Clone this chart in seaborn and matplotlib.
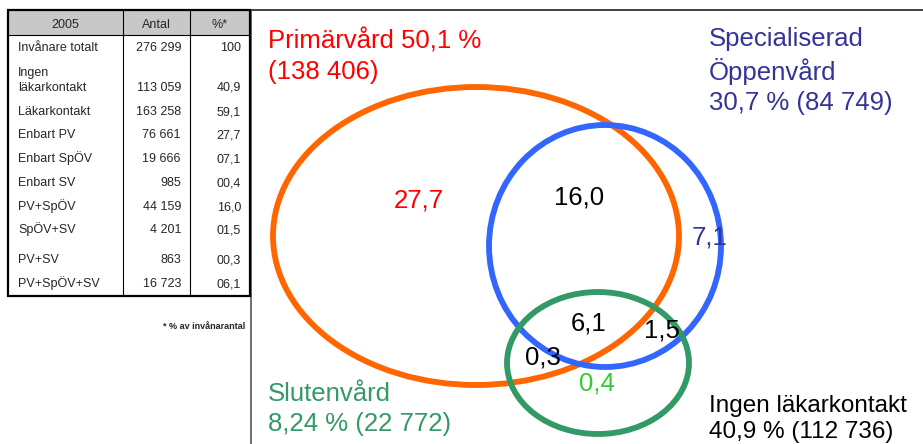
import matplotlib
matplotlib.use("Agg")
import matplotlib.pyplot as plt
import seaborn as sns
from matplotlib.patches import Ellipse, Rectangle

# table data
TABLE_HEADER = ["2005", "Antal", "%*"]
ROW_LABELS = ["Invånare totalt", "Ingen\nläkarkontakt", "Läkarkontakt", "Enbart PV",
              "Enbart SpÖV", "Enbart SV", "PV+SpÖV", "SpÖV+SV", "PV+SV", "PV+SpÖV+SV"]
ROW_ANTAL = ["276 299", "113 059", "163 258", "76 661", "19 666", "985",
             "44 159", "4 201", "863", "16 723"]
ROW_PCT = ["100", "40,9", "59,1", "27,7", "07,1", "00,4", "16,0", "01,5", "00,3", "06,1"]
FOOTNOTE = "* % av invånarantal"

# venn data
SET_NAMES = ["Primärvård 50,1 %\n(138 406)",
             "Specialiserad\nÖppenvård\n30,7 % (84 749)",
             "Slutenvård\n8,24 % (22 772)"]
NONE_LABEL = "Ingen läkarkontakt\n40,9 % (112 736)"
REGION_KEYS = ["PV", "SpÖV", "PV+SpÖV", "PV+SpÖV+SV", "SpÖV+SV", "PV+SV", "SV"]
REGION_VALUES = ["27,7", "7,1", "16,0", "6,1", "1,5", "0,3", "0,4"]

sns.set_theme(style="white")
plt.rcParams["font.family"] = ["Liberation Sans", "DejaVu Sans"]

W, H = 923, 444
fig = plt.figure(figsize=(W / 100, H / 100), dpi=100)
ax = fig.add_axes([0, 0, 1, 1])
ax.set_xlim(0, W)
ax.set_ylim(H, 0)
ax.axis("off")

# ---- table ----
x0, x1, x2, x3 = 8, 123, 190, 250
top, head_bot, bot = 10, 35, 296
row_base = [51, 91, 115, 138, 162, 186, 210, 233, 263, 287]
fs = 9

ax.add_patch(Rectangle((x0, top), x3 - x0, head_bot - top, facecolor="#c8c8c8",
                       edgecolor="none", zorder=1))
ax.plot([x0, x3], [head_bot, head_bot], color="black", lw=0.8, zorder=2)
for xv in (x1, x2):
    ax.plot([xv, xv], [top, bot], color="black", lw=0.8, zorder=2)
ax.add_patch(Rectangle((x0, top), x3 - x0, bot - top, facecolor="none",
                       edgecolor="black", lw=1.6, zorder=3))

for xc, h in zip([(x0 + x1) / 2, (x1 + x2) / 2, (x2 + x3) / 2], TABLE_HEADER):
    ax.text(xc, 28, h, ha="center", va="baseline", fontsize=fs)

for y, lab, n, p in zip(row_base, ROW_LABELS, ROW_ANTAL, ROW_PCT):
    ax.text(18, y, lab, ha="left", va="baseline", fontsize=fs, linespacing=1.3)
    ax.text(181, y, n, ha="right", va="baseline", fontsize=fs)
    ax.text(241, y, p, ha="right", va="baseline", fontsize=fs)

ax.text(245, 329, FOOTNOTE, ha="right", va="baseline", fontsize=6.5, fontweight="bold")

# frame lines
ax.plot([x3, W], [top, top], color="#222222", lw=1.2)
ax.plot([251, 251], [top, H], color="#555555", lw=1.2)

# ---- venn ----
ax.add_patch(Ellipse((476, 236), 406, 298, fill=False, edgecolor="#FF6600", lw=4.2))
ax.add_patch(Ellipse((605, 246), 232, 242, fill=False, edgecolor="#3366FF", lw=4.2))
ax.add_patch(Ellipse((598, 363), 182, 142, fill=False, edgecolor="#339966", lw=4.2))

big = 18.5
ax.text(268, 56, SET_NAMES[0], ha="left", va="center", fontsize=big,
        color="#FF0000", linespacing=1.32)
ax.text(709, 71, SET_NAMES[1], ha="left", va="center", fontsize=big,
        color="#333399", linespacing=1.32)
ax.text(268, 409, SET_NAMES[2], ha="left", va="center", fontsize=big,
        color="#339966", linespacing=1.32)
ax.text(709, 419, NONE_LABEL, ha="left", va="center", fontsize=17.5,
        color="black", linespacing=1.26)

region_pos = {"PV": (419, 200), "SpÖV": (710, 237), "PV+SpÖV": (579, 197),
              "PV+SpÖV+SV": (589, 323), "SpÖV+SV": (662, 330),
              "PV+SV": (543, 357), "SV": (597, 383)}
region_col = {"PV": "#FF0000", "SpÖV": "#333399", "SV": "#33CC33"}
for k, v in zip(REGION_KEYS, REGION_VALUES):
    xp, yp = region_pos[k]
    ax.text(xp, yp, v, ha="center", va="center", fontsize=big,
            color=region_col.get(k, "black"))

fig.savefig("out.png", dpi=100)
